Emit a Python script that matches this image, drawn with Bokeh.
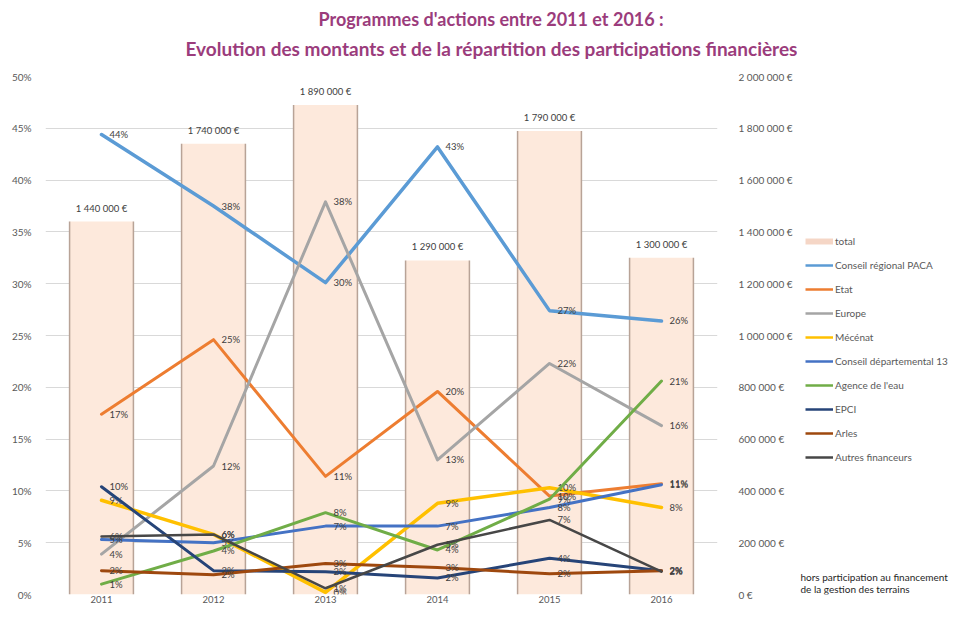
from bokeh.plotting import figure
from bokeh.models import (Range1d, LinearAxis, FixedTicker, Legend, LegendItem,
                          Title, ColumnDataSource, FactorRange)
from bokeh.layouts import row
from bokeh.core.properties import value
from bokeh.embed import file_html
from bokeh.resources import INLINE

# ---------------- data ----------------
years = ["2011", "2012", "2013", "2014", "2015", "2016"]
totals = [1440000, 1740000, 1890000, 1290000, 1790000, 1300000]

paca = [44.4, 37.5, 30.1, 43.2, 27.4, 26.4]
etat = [17.4, 24.6, 11.4, 19.6, 9.5, 10.7]
europe = [3.9, 12.4, 37.9, 13.0, 22.3, 16.3]
mecenat = [9.1, 5.8, 0.2, 8.8, 10.3, 8.4]
cd13 = [5.3, 5.0, 6.6, 6.6, 8.4, 10.6]
agence = [1.0, 4.2, 7.9, 4.3, 9.2, 20.6]
epci = [10.4, 2.3, 2.2, 1.6, 3.5, 2.3]
arles = [2.3, 1.9, 3.0, 2.6, 2.0, 2.3]
autres = [5.6, 5.8, 0.6, 4.8, 7.2, 2.2]

left_ticks = [0, 5, 10, 15, 20, 25, 30, 35, 40, 45, 50]
right_ticks = [0, 200000, 400000, 600000, 800000, 1000000, 1200000,
               1400000, 1600000, 1800000, 2000000]

title_line1 = "Programmes d'actions entre 2011 et 2016 :"
title_line2 = "Evolution des montants et de la répartition des participations financières"
note_lines = ["hors participation au financement", "de la gestion des terrains"]

series = [
    ("Conseil régional PACA", paca, "#5B9BD5", 3.5),
    ("Etat", etat, "#ED7D31", 3),
    ("Europe", europe, "#A5A5A5", 3),
    ("Mécénat", mecenat, "#FFC000", 3.5),
    ("Conseil départemental 13", cd13, "#4472C4", 3),
    ("Agence de l'eau", agence, "#70AD47", 3),
    ("EPCI", epci, "#264478", 3),
    ("Arles", arles, "#9E480E", 3),
    ("Autres financeurs", autres, "#474747", 2.5),
]

FONT = "Lato"
TXT = "#595959"
H = 605
NAN = float("nan")


def fmt_eur(v):
    return "{:,}".format(int(v)).replace(",", " ") + " €"


# ---------------- main chart ----------------
p = figure(width=797, height=H,
           x_range=FactorRange(*years),
           y_range=Range1d(0, 50),
           output_backend="svg", toolbar_location=None,
           min_border_left=45, min_border_right=80,
           min_border_top=76, min_border_bottom=10)
p.outline_line_color = None
p.extra_y_ranges = {"eur": Range1d(0, 2000000)}

p.yaxis.ticker = FixedTicker(ticks=left_ticks)
p.yaxis.major_label_overrides = {t: f"{t}%" for t in left_ticks}
p.yaxis.axis_line_color = None
p.yaxis.major_tick_line_color = None
p.yaxis.minor_tick_line_color = None
p.yaxis.major_label_text_font = FONT
p.yaxis.major_label_text_font_size = "10px"
p.yaxis.major_label_text_color = TXT
p.yaxis.major_label_standoff = 8

p.xaxis.axis_line_color = None
p.xaxis.major_tick_line_color = None
p.xaxis.major_tick_out = 0
p.xaxis.major_tick_in = 0
p.xaxis.major_label_text_font = FONT
p.xaxis.major_label_text_font_size = "9.5px"
p.xaxis.major_label_text_color = TXT
p.xaxis.major_label_standoff = 1

p.xgrid.grid_line_color = None
p.ygrid.ticker = FixedTicker(ticks=left_ticks)
p.ygrid.grid_line_color = "#D9D9D9"
p.ygrid.grid_line_width = 1

raxis = LinearAxis(y_range_name="eur", ticker=FixedTicker(ticks=right_ticks))
raxis.major_label_overrides = {t: fmt_eur(t) for t in right_ticks}
raxis.axis_line_color = None
raxis.major_tick_line_color = None
raxis.minor_tick_line_color = None
raxis.major_label_text_font = FONT
raxis.major_label_text_font_size = "10px"
raxis.major_label_text_color = TXT
raxis.major_label_standoff = 15
p.add_layout(raxis, "right")

# bars (totals)
bsrc = ColumnDataSource(dict(x=years, top=totals,
                             left=[(y, -0.285) for y in years],
                             right=[(y, 0.285) for y in years],
                             zero=[0] * len(years),
                             lab=[fmt_eur(t) for t in totals]))
p.vbar(x="x", top="top", width=0.57, source=bsrc, y_range_name="eur",
       fill_color="#FDE9DC", line_color=None)
p.segment(x0="left", y0="zero", x1="left", y1="top", source=bsrc, y_range_name="eur",
          line_color="#B8A397", line_width=1.5)
p.segment(x0="right", y0="zero", x1="right", y1="top", source=bsrc, y_range_name="eur",
          line_color="#B8A397", line_width=1.5)
p.text(x="x", y="top", text="lab", source=bsrc, y_range_name="eur",
       text_align="center", text_baseline="bottom", y_offset=-8,
       text_font=value(FONT), text_font_size="9.5px", text_color="#404040")

for name, vals, color, lw in series:
    src = ColumnDataSource(dict(x=years, y=vals, lab=[f"{v:.0f}%" for v in vals]))
    p.line(x="x", y="y", source=src, line_color=color, line_width=lw,
           line_join="round", line_cap="round")
    p.text(x="x", y="y", text="lab", source=src, x_offset=8,
           text_align="left", text_baseline="middle",
           text_font=value(FONT), text_font_size="9.5px", text_color="#404040")

# titles (first added = closest to frame)
p.add_layout(Title(text=title_line2, align="left", offset=140,
                   text_font=FONT, text_font_style="bold", text_font_size="19px",
                   text_color="#9B3C7C", standoff=33), "above")
p.add_layout(Title(text=title_line1, align="left", offset=273,
                   text_font=FONT, text_font_style="bold", text_font_size="18px",
                   text_color="#9B3C7C", standoff=-22), "above")

# ---------------- legend panel ----------------
p2 = figure(width=158, height=H, x_range=Range1d(0, 1), y_range=Range1d(0, 1),
            output_backend="svg", toolbar_location=None,
            x_axis_type=None, y_axis_type=None,
            min_border_left=0, min_border_right=0, min_border_top=0, min_border_bottom=0)
p2.outline_line_color = None
p2.grid.visible = False

items = [LegendItem(label="total",
                    renderers=[p2.line(x=[NAN], y=[NAN], line_color="#F5D6C6", line_width=6)])]
for name, vals, color, lw in series:
    r = p2.line(x=[NAN], y=[NAN], line_color=color, line_width=2.5)
    items.append(LegendItem(label=name, renderers=[r]))

legend = Legend(items=items, location=(8, 127),
                label_text_font=FONT, label_text_font_size="10px",
                label_text_color=TXT, glyph_width=28, glyph_height=20,
                label_height=20, spacing=4, label_standoff=2, padding=0,
                margin=0, border_line_color=None, background_fill_alpha=0)
p2.add_layout(legend, "center")

nsrc = ColumnDataSource(dict(x=[0, 0], y=[0, 0], t=note_lines, off=[-12, 0]))
p2.text(x="x", y="y", text="t", source=nsrc, x_offset=3, y_offset="off",
        text_baseline="bottom", text_font=value(FONT), text_font_size="10px",
        text_color="#262626")

open("out.html", "w").write(file_html(row(p, p2), INLINE))
